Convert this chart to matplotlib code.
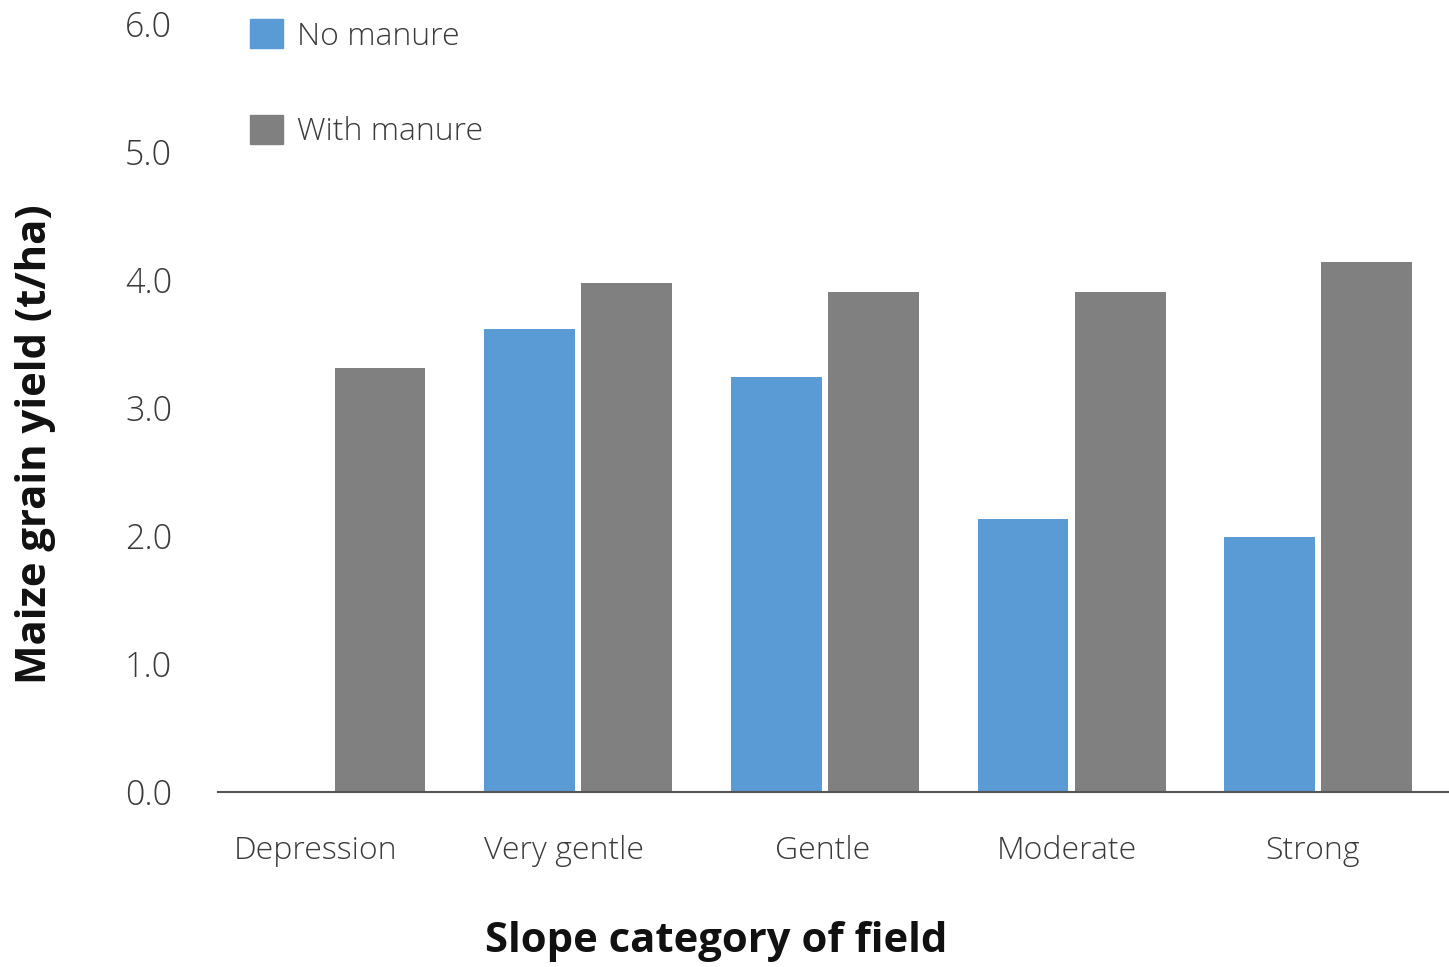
import matplotlib
matplotlib.use("Agg")
import matplotlib.pyplot as plt
import matplotlib.patches as mpatches
from matplotlib.transforms import ScaledTranslation
import numpy as np

# Maize yield by slope category (t/ha)
categories = ["Depression", "Very gentle", "Gentle", "Moderate", "Strong"]
no_manure = [0.0, 3.62, 3.24, 2.13, 1.99]
with_manure = [3.31, 3.98, 3.91, 3.91, 4.14]
yticks = [0.0, 1.0, 2.0, 3.0, 4.0, 5.0, 6.0]

blue = "#5B9BD5"
grey = "#808080"
text_col = "#3a3a3a"

plt.rcParams["font.family"] = ["Open Sans", "DejaVu Sans"]

fig = plt.figure(figsize=(14.49, 9.67), dpi=100)
ax = fig.add_axes([218 / 1449, 1 - 792 / 967, 1 - 218 / 1449, (792 - 24) / 967])

x = np.arange(len(categories))
w = 0.368
off = 0.197
ax.bar(x - off, no_manure, w, color=blue)
ax.bar(x + off, with_manure, w, color=grey)

ax.set_xlim(-0.46, 4.53)
ax.set_ylim(0, 6)
ax.set_yticks(yticks)
ax.set_yticklabels([f"{v:.1f}" for v in yticks], fontsize=24.5, color=text_col,
                   fontweight="light")
ax.set_xticks(x)
ax.set_xticklabels(categories, fontsize=23, color=text_col, fontweight="light")
ax.tick_params(axis="y", length=0, pad=33)
ax.tick_params(axis="x", length=0, pad=31)

# category names sit a little left of the group centres
nudge = [-16, -14, -2, -5, -6]
for lab, dx in zip(ax.get_xticklabels(), nudge):
    lab.set_transform(lab.get_transform() + ScaledTranslation(dx / 100, 0, fig.dpi_scale_trans))

for s in ["top", "right", "left"]:
    ax.spines[s].set_visible(False)
ax.spines["bottom"].set_color("#555555")
ax.spines["bottom"].set_linewidth(1.5)

# legend in the top left corner
handles = [mpatches.Patch(color=blue, label="No manure"),
           mpatches.Patch(color=grey, label="With manure")]
leg = fig.legend(handles=handles, loc="upper left",
                 bbox_to_anchor=(250 / 1449, 1 - 19 / 967), frameon=False,
                 fontsize=23, handlelength=1.03, handleheight=1.03,
                 handletextpad=0.45, labelspacing=1.95, borderpad=0,
                 borderaxespad=0)
for t in leg.get_texts():
    t.set_color(text_col)
    t.set_fontweight("light")

fig.text(36 / 1449, 1 - 444 / 967, "Maize grain yield (t/ha)", rotation=90,
         fontsize=30.2, fontweight="bold", color="#111111",
         ha="center", va="center")
fig.text(716 / 1449, 1 - 942 / 967, "Slope category of field",
         fontsize=30.2, fontweight="bold", color="#111111",
         ha="center", va="center")

fig.savefig("out.png", dpi=100)
